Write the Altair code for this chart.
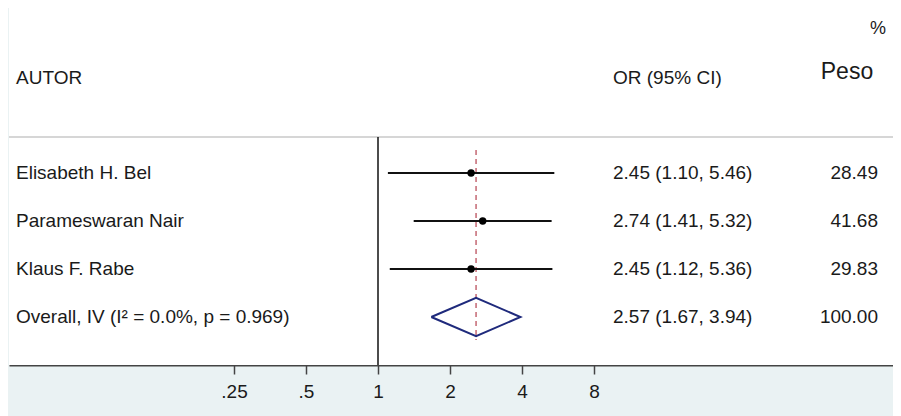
import altair as alt
import pandas as pd
import numpy as np

# ---------------- data ----------------
studies = ["Elisabeth H. Bel", "Parameswaran Nair", "Klaus F. Rabe"]
or_est = [2.45, 2.74, 2.45]
ci_low = [1.10, 1.41, 1.12]
ci_high = [5.46, 5.32, 5.36]
weights = [28.49, 41.68, 29.83]

overall_label = "Overall, IV (I² = 0.0%, p = 0.969)"
overall_or = 2.57
overall_low = 1.67
overall_high = 3.94
overall_weight = 100.00

tick_values = [0.25, 0.5, 1, 2, 4, 8]

# ---------------- layout ----------------
W = 884          # plot width
H = 357          # plot height
ROW = 48         # pixels per row
FIRST = 165      # pixel (from plot top) of first study row
X_ONE = 369      # pixel (from plot left) of OR = 1
PX_PER_DOUBLING = 72
FONT = "Liberation Sans"
TXT = "#1a1a1a"

x_lo = 2 ** (-X_ONE / PX_PER_DOUBLING)
x_hi = 2 ** ((W - X_ONE) / PX_PER_DOUBLING)
xscale = alt.Scale(type="log", base=2, domain=[x_lo, x_hi], nice=False, zero=False)
yscale = alt.Scale(domain=[-FIRST / ROW, (H - FIRST) / ROW], reverse=True, nice=False, zero=False)

xaxis = alt.Axis(
    values=tick_values,
    labelExpr="datum.value < 1 ? substring(format(datum.value, '~g'), 1) : format(datum.value, '~g')",
    title=None, grid=False, domainColor="#444444", domainWidth=2,
    tickColor="#444444", tickWidth=1.5, tickSize=9, labelPadding=8,
    labelFontSize=19, labelFont=FONT, labelColor=TXT, labelFlush=False,
)

n = len(studies)
study_df = pd.DataFrame({
    "r": list(range(n)),
    "est": or_est, "lo": ci_low, "hi": ci_high,
})

rows_df = pd.DataFrame({
    "r": list(range(n)) + [n],
    "label": studies + [overall_label],
    "ci": [f"{e:.2f} ({l:.2f}, {h:.2f})" for e, l, h in zip(or_est + [overall_or], ci_low + [overall_low], ci_high + [overall_high])],
    "w": [f"{w:.2f}" for w in weights + [overall_weight]],
})

diamond_df = pd.DataFrame({
    "x": [overall_low, overall_or, overall_high, overall_or, overall_low],
    "r": [n, n - 0.4, n, n + 0.4, n],
    "o": [0, 1, 2, 3, 4],
})

hline_df = pd.DataFrame({"r": [-0.75]})
vline_df = pd.DataFrame({"x": [1.0], "r0": [-0.75], "r1": [(H - FIRST) / ROW]})
ref_df = pd.DataFrame({"x": [overall_or], "r0": [-0.48], "r1": [n + 0.48]})
bg_df = pd.DataFrame({"k": [0]})

hdr_df = pd.DataFrame({
    "r": [-1.98, -1.98, -2.1, -3.0],
    "t": ["AUTOR", "OR (95% CI)", "Peso", "%"],
    "px": [7, 604, 838, 869],
    "al": ["left", "left", "center", "center"],
    "fs": [19, 19, 23, 18],
})

X = lambda f: alt.X(f, type="quantitative", scale=xscale, axis=xaxis)
Y = lambda f: alt.Y(f, type="quantitative", scale=yscale, axis=None)

white = alt.Chart(bg_df).mark_rect(color="white").encode(
    x=alt.value(0), x2=alt.value(W), y=alt.value(0), y2=alt.value(H))

hline = alt.Chart(hline_df).mark_rule(color="#c8c8c8", strokeWidth=1.5).encode(
    y=Y("r"), x=alt.value(0), x2=alt.value(W))

vline = alt.Chart(vline_df).mark_rule(color="#111111", strokeWidth=1.5).encode(
    x=X("x"), y=Y("r0"), y2="r1")

refline = alt.Chart(ref_df).mark_rule(color="#b5424f", strokeWidth=1.2, strokeDash=[5, 4]).encode(
    x=X("x"), y=Y("r0"), y2="r1")

ci = alt.Chart(study_df).mark_rule(color="#111111", strokeWidth=2).encode(
    x=X("lo"), x2="hi", y=Y("r"))

pts = alt.Chart(study_df).mark_point(shape="circle", filled=True, size=55, color="#000000", opacity=1).encode(
    x=X("est"), y=Y("r"))

diamond = alt.Chart(diamond_df).mark_line(color="#1f2a7c", strokeWidth=2).encode(
    x=X("x"), y=Y("r"), order="o:Q")

lab = alt.Chart(rows_df).mark_text(align="left", baseline="middle", fontSize=19, font=FONT, color=TXT).encode(
    x=alt.value(7), y=Y("r"), text="label:N")

ci_txt = alt.Chart(rows_df).mark_text(align="left", baseline="middle", fontSize=19, font=FONT, color=TXT).encode(
    x=alt.value(604), y=Y("r"), text="ci:N")

w_txt = alt.Chart(rows_df).mark_text(align="right", baseline="middle", fontSize=19, font=FONT, color=TXT).encode(
    x=alt.value(869), y=Y("r"), text="w:N")

hdr_layers = []
for _, row in hdr_df.iterrows():
    hdr_layers.append(
        alt.Chart(hdr_df[hdr_df["t"] == row["t"]]).mark_text(
            align=row["al"], baseline="middle", fontSize=int(row["fs"]), font=FONT, color=TXT
        ).encode(x=alt.value(int(row["px"])), y=Y("r"), text="t:N")
    )

chart = alt.layer(white, hline, vline, refline, ci, pts, diamond, lab, ci_txt, w_txt, *hdr_layers).properties(
    width=W, height=H,
    autosize=alt.AutoSizeParams(type="none"),
    padding={"left": 1, "top": 0, "right": 0, "bottom": 51},
    background="#eaf2f3",
).configure_view(stroke=None).configure(font=FONT)

chart.save("out.html", embed_options={"renderer": "svg", "actions": False})
